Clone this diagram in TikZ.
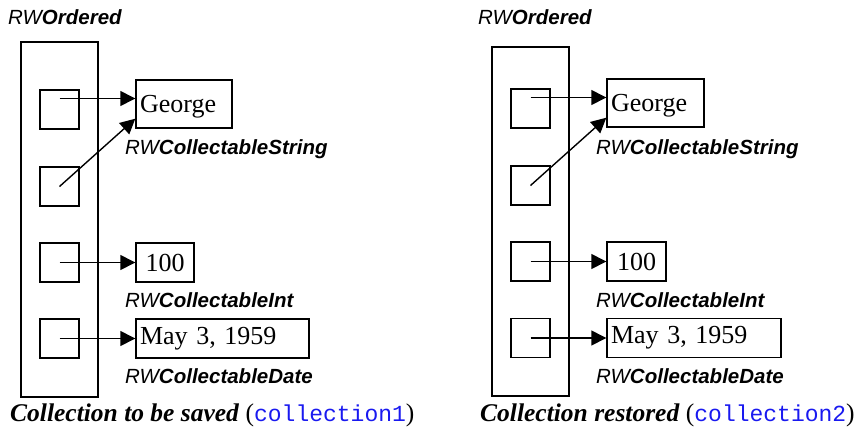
\documentclass[tikz,border=0pt]{standalone}
\usepackage{fontspec}
\setmainfont{Liberation Serif}
\setsansfont{Liberation Sans}
\setmonofont{Liberation Mono}
\usetikzlibrary{arrows.meta}
\definecolor{codeblue}{RGB}{25,25,240}
\newcommand{\clsname}[1]{{\sffamily\itshape RW\bfseries #1}}
\tikzset{
  holder/.style={draw, line width=1.4pt, inner sep=0pt, minimum width=77pt},
  slot/.style={draw, line width=1.4pt, inner sep=0pt, minimum width=39pt, minimum height=39pt},
  valbox/.style={draw, line width=1.4pt, inner sep=0pt, minimum height=39pt,
    font=\fontsize{26}{30}\selectfont},
  leftval/.style={valbox, align=left, inner xsep=4pt},
  strval/.style={leftval, minimum height=48pt, text height=22pt, text depth=6pt},
  clslabel/.style={anchor=base west, inner sep=0pt, font=\fontsize{20.5}{24}\selectfont},
  caption/.style={anchor=base west, inner sep=0pt, font=\fontsize{25.5}{30}\selectfont},
  ptr/.style={line width=1.4pt, -{Triangle[length=15pt,width=15pt]}}
}
\newcommand{\code}[1]{{\ttfamily\fontsize{23}{27}\selectfont\color{codeblue}#1}}
\begin{document}
\begin{tikzpicture}[x=1pt,y=-1pt]
  \useasboundingbox (0,0) rectangle (855,432);

  % ---------- collection to be saved ----------
  \node[clslabel] (lord) at (8,24) {\clsname{Ordered}};
  \node[holder, minimum height=355pt] (lcol) at (59.5,219.5) {};
  \node[slot] (ls1) at (59.5,109.5) {};
  \node[slot] (ls2) at (59.5,186.5) {};
  \node[slot] (ls3) at (59.5,262.5) {};
  \node[slot] (ls4) at (59.5,338.5) {};

  \node[strval, minimum width=96pt, text width=88pt] (lstr) at (184,104) {George};
  \node[valbox, minimum width=58pt] (lint) at (165,262.5) {100};
  \node[leftval, minimum width=173pt, text width=165pt] (ldate) at (222.5,338.5) {May 3, 1959};

  \node[clslabel] (lstrlab) at (125,154) {\clsname{CollectableString}};
  \node[clslabel] (lintlab) at (125,307) {\clsname{CollectableInt}};
  \node[clslabel] (ldatelab) at (125,383) {\clsname{CollectableDate}};

  \draw[ptr] ([yshift=11pt]ls1.center) -- ([yshift=11pt]ls1.center -| lstr.west);
  \draw[ptr] (ls2.center) -- ([yshift=10pt]lstr.south west);
  \draw[ptr] (ls3.center) -- (lint.west);
  \draw[ptr] (ls4.center) -- (ldate.west);

  \node[caption] (lcap) at (10,421) {\textbf{\textit{Collection to be saved}} (\code{collection1})};

  % ---------- collection restored ----------
  \node[clslabel] (rord) at (478,24) {\clsname{Ordered}};
  \node[holder, minimum height=349pt] (rcol) at (530.5,221.5) {};
  \node[slot] (rs1) at (530.5,108.5) {};
  \node[slot] (rs2) at (530.5,185.5) {};
  \node[slot] (rs3) at (530.5,261.5) {};
  \node[slot] (rs4) at (530.5,338) {};

  \node[strval, minimum width=97pt, text width=89pt] (rstr) at (655.5,103) {George};
  \node[valbox, minimum width=59pt] (rint) at (636.5,261.5) {100};
  \node[leftval, minimum width=174pt, text width=166pt] (rdate) at (694,338) {May 3, 1959};

  \node[clslabel] (rstrlab) at (596,154) {\clsname{CollectableString}};
  \node[clslabel] (rintlab) at (596,307) {\clsname{CollectableInt}};
  \node[clslabel] (rdatelab) at (596,383) {\clsname{CollectableDate}};

  \draw[ptr] ([yshift=11pt]rs1.center) -- ([yshift=11pt]rs1.center -| rstr.west);
  \draw[ptr] (rs2.center) -- ([yshift=10pt]rstr.south west);
  \draw[ptr] (rs3.center) -- (rint.west);
  \draw[ptr] (rs4.center) -- (rdate.west);

  \node[caption] (rcap) at (480,421) {\textbf{\textit{Collection restored}} (\code{collection2})};
\end{tikzpicture}
\end{document}
